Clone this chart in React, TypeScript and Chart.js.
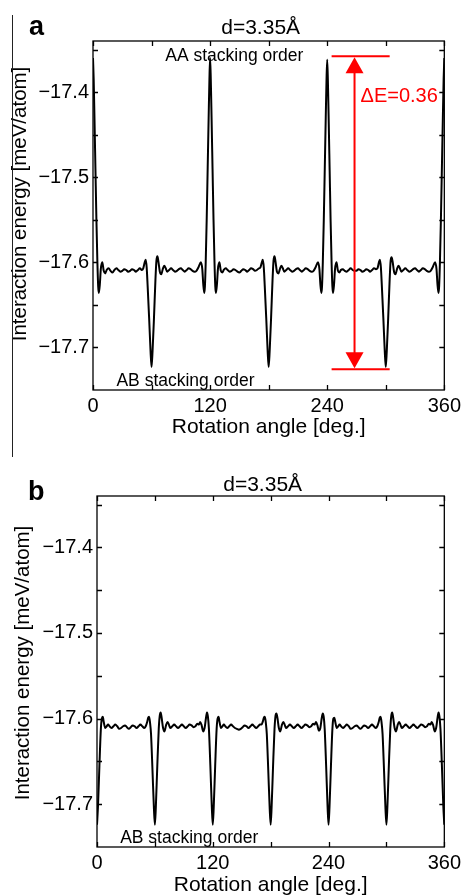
import React, { useEffect, useRef } from 'react';
import { Chart, registerables } from 'chart.js';

Chart.register(...registerables);

const FONT = "'Liberation Sans', Arial, Helvetica, sans-serif";

// ---- axis ticks / titles ----
const X_LABEL_TICKS = [0, 120, 240, 360];
const X_MINOR_TICKS = [0, 60, 120, 180, 240, 300, 360];
const Y_LABEL_TICKS = [-17.7, -17.6, -17.5, -17.4];
const Y_MINOR_TICKS = [-17.7, -17.65, -17.6, -17.55, -17.5, -17.45, -17.4, -17.35];
const X_MIN = 0;
const X_MAX = 360;
const Y_MIN = -17.75;
const Y_MAX = -17.34;
const X_TITLE = 'Rotation angle [deg.]';
const Y_TITLE = 'Interaction energy [meV/atom]';
const PANEL_TITLE = 'd=3.35Å';

// ---- annotations ----
const AA_LABEL = 'AA stacking order';
const AA_AT = [74, -17.363];
const AB_LABEL = 'AB stacking order';
const AB_AT = [24, -17.745];
const DELTA_LABEL = 'ΔE=0.36';
const DELTA_ANGLE = 268;
const DELTA_SPAN = [244.5, 304];
const DELTA_TOP = -17.358;
const DELTA_BOTTOM = -17.7255;
const DELTA_LABEL_E = -17.412;

// ---- panel a: rotation angle [deg], interaction energy [meV/atom] ----
const CURVE_A: [number, number][] = [
  [0, -17.360], [0.7, -17.385], [1.5, -17.430], [2.5, -17.490], [3.5, -17.550], [4.5, -17.600],
  [5.3, -17.628], [6, -17.636], [7, -17.626], [8, -17.608], [9.5, -17.600], [11, -17.610],
  [12.5, -17.613], [14, -17.609], [16, -17.607], [18, -17.610], [20, -17.612], [22, -17.609],
  [24, -17.607], [26, -17.609], [28, -17.611], [30, -17.610], [32, -17.608], [34, -17.609],
  [36, -17.611], [38, -17.610], [40, -17.608], [42, -17.609], [44, -17.611], [46, -17.609],
  [48, -17.607], [50, -17.609], [51.5, -17.607], [53, -17.600], [54, -17.597], [55, -17.606],
  [56, -17.628], [57.5, -17.665], [59, -17.705], [60, -17.723], [61, -17.705], [62.5, -17.665],
  [64, -17.620], [65, -17.598], [66, -17.593], [67, -17.599], [68.5, -17.611], [70, -17.614],
  [71.5, -17.608], [73, -17.604], [74.5, -17.607], [76, -17.611], [78, -17.609], [80, -17.607],
  [82, -17.609], [84, -17.611], [86, -17.610], [88, -17.608], [90, -17.607], [92, -17.609],
  [94, -17.611], [96, -17.609], [98, -17.607], [100, -17.608], [102, -17.610], [104, -17.611],
  [106, -17.610], [108, -17.606], [110.5, -17.600], [112, -17.608], [113, -17.626], [114, -17.636],
  [114.7, -17.628], [115.5, -17.600], [116.5, -17.550], [117.5, -17.490], [118.5, -17.430], [119.3, -17.385],
  [120, -17.360], [120.7, -17.385], [121.5, -17.430], [122.5, -17.490], [123.5, -17.550], [124.5, -17.600],
  [125.3, -17.628], [126, -17.636], [127, -17.626], [128, -17.608], [129.5, -17.600], [131, -17.610],
  [132.5, -17.612], [134, -17.609], [136, -17.607], [138, -17.609], [140, -17.611], [142, -17.610],
  [144, -17.608], [146, -17.609], [148, -17.611], [150, -17.612], [152, -17.610], [154, -17.608],
  [156, -17.609], [158, -17.611], [160, -17.609], [162, -17.607], [164, -17.608], [166, -17.610],
  [168, -17.609], [170, -17.607], [171.5, -17.606], [173, -17.600], [174, -17.597], [175, -17.606],
  [176, -17.628], [177.5, -17.665], [179, -17.705], [180, -17.723], [181, -17.705], [182.5, -17.665],
  [184, -17.620], [185, -17.598], [186, -17.593], [187, -17.599], [188.5, -17.611], [190, -17.613],
  [191.5, -17.608], [193, -17.604], [194.5, -17.607], [196, -17.611], [198, -17.609], [200, -17.607],
  [202, -17.609], [204, -17.611], [206, -17.610], [208, -17.608], [210, -17.607], [212, -17.609],
  [214, -17.611], [216, -17.609], [218, -17.607], [220, -17.608], [222, -17.610], [224, -17.611],
  [226, -17.610], [228, -17.606], [230.5, -17.600], [232, -17.608], [233, -17.626], [234, -17.636],
  [234.7, -17.628], [235.5, -17.600], [236.5, -17.550], [237.5, -17.490], [238.5, -17.430], [239.3, -17.385],
  [240, -17.362], [240.7, -17.387], [241.5, -17.432], [242.5, -17.492], [243.5, -17.552], [244.5, -17.601],
  [245.3, -17.628], [246, -17.636], [247, -17.626], [248, -17.608], [249.5, -17.600], [251, -17.610],
  [252.5, -17.612], [254, -17.609], [256, -17.608], [258, -17.610], [260, -17.611], [262, -17.609],
  [264, -17.607], [266, -17.609], [268, -17.610], [270, -17.610], [272, -17.608], [274, -17.609],
  [276, -17.611], [278, -17.610], [280, -17.608], [282, -17.609], [284, -17.611], [286, -17.609],
  [288, -17.607], [290, -17.608], [291.5, -17.607], [293, -17.600], [294, -17.597], [295, -17.606],
  [296, -17.628], [297.5, -17.665], [299, -17.705], [300, -17.723], [301, -17.705], [302.5, -17.665],
  [304, -17.620], [305, -17.598], [306, -17.594], [307, -17.599], [308.5, -17.611], [310, -17.614],
  [311.5, -17.608], [313, -17.604], [314.5, -17.607], [316, -17.611], [318, -17.609], [320, -17.607],
  [322, -17.609], [324, -17.611], [326, -17.610], [328, -17.608], [330, -17.607], [332, -17.609],
  [334, -17.611], [336, -17.609], [338, -17.607], [340, -17.608], [342, -17.610], [344, -17.611],
  [346, -17.610], [348, -17.606], [350.5, -17.600], [352, -17.608], [353, -17.626], [354, -17.636],
  [354.7, -17.628], [355.5, -17.600], [356.5, -17.550], [357.5, -17.490], [358.5, -17.430], [359.3, -17.385],
  [360, -17.360],
];

// ---- panel b ----
const CURVE_B: [number, number][] = [
  [0, -17.724], [1, -17.703], [2.5, -17.655], [4, -17.612], [5, -17.600], [6, -17.598],
  [7, -17.604], [8.5, -17.611], [10, -17.609], [11.5, -17.607], [13, -17.609], [15, -17.611],
  [17, -17.609], [19, -17.607], [21, -17.609], [23, -17.612], [25, -17.611], [27, -17.609],
  [29, -17.608], [31, -17.610], [33, -17.612], [35, -17.610], [37, -17.608], [39, -17.609],
  [41, -17.611], [43, -17.609], [45, -17.607], [47, -17.609], [49, -17.611], [50.5, -17.609],
  [52, -17.604], [53, -17.599], [54, -17.598], [55, -17.605], [56, -17.618], [57.5, -17.660],
  [59, -17.705], [60, -17.724], [61, -17.703], [62.5, -17.655], [64, -17.612], [65, -17.597],
  [66, -17.593], [67, -17.599], [68.5, -17.611], [70, -17.615], [71.5, -17.608], [73, -17.604],
  [74.5, -17.607], [76, -17.611], [78, -17.609], [80, -17.607], [82, -17.609], [84, -17.611],
  [86, -17.609], [88, -17.607], [90, -17.609], [92, -17.611], [94, -17.609], [96, -17.607],
  [98, -17.608], [100, -17.610], [102, -17.609], [104, -17.606], [105.5, -17.607], [107, -17.604],
  [108.5, -17.608], [110, -17.615], [111.5, -17.611], [113, -17.599], [114, -17.593], [115, -17.598],
  [116, -17.612], [117.5, -17.655], [119, -17.703], [120, -17.724], [121, -17.703], [122.5, -17.655],
  [124, -17.612], [125, -17.600], [126, -17.598], [127, -17.604], [128.5, -17.611], [130, -17.609],
  [131.5, -17.607], [133, -17.609], [135, -17.611], [137, -17.609], [139, -17.607], [141, -17.609],
  [143, -17.611], [145, -17.612], [147, -17.613], [149, -17.612], [151, -17.610], [153, -17.608],
  [155, -17.609], [157, -17.611], [159, -17.609], [161, -17.607], [163, -17.609], [165, -17.611],
  [167, -17.609], [169, -17.607], [170.5, -17.607], [172, -17.603], [173, -17.599], [174, -17.598],
  [175, -17.605], [176, -17.618], [177.5, -17.660], [179, -17.705], [180, -17.724], [181, -17.703],
  [182.5, -17.655], [184, -17.612], [185, -17.597], [186, -17.594], [187, -17.599], [188.5, -17.611],
  [190, -17.615], [191.5, -17.608], [193, -17.604], [194.5, -17.607], [196, -17.611], [198, -17.609],
  [200, -17.607], [202, -17.609], [204, -17.611], [206, -17.609], [208, -17.607], [210, -17.609],
  [212, -17.611], [214, -17.609], [216, -17.607], [218, -17.608], [220, -17.610], [222, -17.609],
  [224, -17.606], [225.5, -17.607], [227, -17.604], [228.5, -17.608], [230, -17.614], [231.5, -17.611],
  [233, -17.599], [234, -17.594], [235, -17.598], [236, -17.612], [237.5, -17.655], [239, -17.703],
  [240, -17.724], [241, -17.703], [242.5, -17.655], [244, -17.612], [245, -17.600], [246, -17.599],
  [247, -17.604], [248.5, -17.611], [250, -17.609], [251.5, -17.607], [253, -17.609], [255, -17.611],
  [257, -17.609], [259, -17.607], [261, -17.609], [263, -17.612], [265, -17.611], [267, -17.609],
  [269, -17.608], [271, -17.610], [273, -17.612], [275, -17.610], [277, -17.608], [279, -17.609],
  [281, -17.611], [283, -17.609], [285, -17.607], [287, -17.609], [289, -17.611], [290.5, -17.609],
  [292, -17.604], [293, -17.599], [294, -17.598], [295, -17.605], [296, -17.618], [297.5, -17.660],
  [299, -17.705], [300, -17.724], [301, -17.703], [302.5, -17.655], [304, -17.612], [305, -17.597],
  [306, -17.593], [307, -17.599], [308.5, -17.611], [310, -17.615], [311.5, -17.608], [313, -17.604],
  [314.5, -17.607], [316, -17.611], [318, -17.609], [320, -17.607], [322, -17.609], [324, -17.611],
  [326, -17.609], [328, -17.607], [330, -17.609], [332, -17.611], [334, -17.609], [336, -17.607],
  [338, -17.608], [340, -17.610], [342, -17.609], [344, -17.606], [345.5, -17.607], [347, -17.604],
  [348.5, -17.608], [350, -17.615], [351.5, -17.611], [353, -17.599], [354, -17.593], [355, -17.598],
  [356, -17.612], [357.5, -17.655], [359, -17.703], [360, -17.724],
];

type PanelCfg = {
  letter: string;
  curve: [number, number][];
  showAA: boolean;
  showDelta: boolean;
  height: number;
  padTop: number;
  padRight: number;
  yWidth: number;
  xHeight: number;
  xTitlePad: number;
  yTitleX: number;
  yTitleY: number;
  letterX: number;
  letterY: number;
  titleDX: number;
  titleDY: number;
};

function makeOverlay(cfg: PanelCfg) {
  return {
    id: 'overlay_' + cfg.letter,
    afterDatasetsDraw(chart: any) {
      const { ctx, chartArea, scales } = chart;
      const { left, right, top, bottom } = chartArea;
      const xs = scales.x;
      const ys = scales.y;
      ctx.save();
      // frame
      ctx.strokeStyle = '#000';
      ctx.lineWidth = 1.3;
      ctx.strokeRect(left, top, right - left, bottom - top);
      // inward ticks
      const L = 5;
      ctx.beginPath();
      for (const v of X_MINOR_TICKS) {
        const px = Math.round(xs.getPixelForValue(v)) + 0.5;
        ctx.moveTo(px, bottom);
        ctx.lineTo(px, bottom - L);
        ctx.moveTo(px, top);
        ctx.lineTo(px, top + L);
      }
      for (const v of Y_MINOR_TICKS) {
        const py = Math.round(ys.getPixelForValue(v)) + 0.5;
        ctx.moveTo(left, py);
        ctx.lineTo(left + L, py);
        ctx.moveTo(right, py);
        ctx.lineTo(right - L, py);
      }
      ctx.stroke();

      ctx.fillStyle = '#000';
      ctx.textBaseline = 'alphabetic';

      // y axis title
      ctx.save();
      ctx.translate(cfg.yTitleX, cfg.yTitleY);
      ctx.rotate(-Math.PI / 2);
      ctx.font = `20.5px ${FONT}`;
      ctx.textAlign = 'center';
      ctx.textBaseline = 'middle';
      ctx.fillText(Y_TITLE, 0, 0);
      ctx.restore();

      // panel title
      ctx.font = `21px ${FONT}`;
      ctx.textAlign = 'center';
      ctx.fillText(PANEL_TITLE, (left + right) / 2 + cfg.titleDX, top - cfg.titleDY);

      // panel letter
      ctx.font = `bold 27px ${FONT}`;
      ctx.textAlign = 'left';
      ctx.fillText(cfg.letter, cfg.letterX, cfg.letterY);

      // stacking labels
      ctx.font = `17.5px ${FONT}`;
      if (cfg.showAA) {
        ctx.fillText(AA_LABEL, xs.getPixelForValue(AA_AT[0]), ys.getPixelForValue(AA_AT[1]));
      }
      ctx.fillText(AB_LABEL, xs.getPixelForValue(AB_AT[0]), ys.getPixelForValue(AB_AT[1]));

      if (cfg.showDelta) {
        const red = '#ff0000';
        const ax = xs.getPixelForValue(DELTA_ANGLE);
        const yT = ys.getPixelForValue(DELTA_TOP);
        const yB = ys.getPixelForValue(DELTA_BOTTOM);
        const x0 = xs.getPixelForValue(DELTA_SPAN[0]);
        const x1 = xs.getPixelForValue(DELTA_SPAN[1]);
        ctx.strokeStyle = red;
        ctx.fillStyle = red;
        ctx.lineWidth = 2;
        ctx.beginPath();
        ctx.moveTo(x0, yT);
        ctx.lineTo(x1, yT);
        ctx.moveTo(x0, yB);
        ctx.lineTo(x1, yB);
        ctx.moveTo(ax, yT + 10);
        ctx.lineTo(ax, yB - 10);
        ctx.stroke();
        const hw = 9;
        const hh = 16;
        ctx.beginPath();
        ctx.moveTo(ax, yT + 1);
        ctx.lineTo(ax - hw, yT + 1 + hh);
        ctx.lineTo(ax + hw, yT + 1 + hh);
        ctx.closePath();
        ctx.fill();
        ctx.beginPath();
        ctx.moveTo(ax, yB - 1);
        ctx.lineTo(ax - hw, yB - 1 - hh);
        ctx.lineTo(ax + hw, yB - 1 - hh);
        ctx.closePath();
        ctx.fill();
        ctx.font = `20px ${FONT}`;
        ctx.textAlign = 'left';
        ctx.fillText(DELTA_LABEL, ax + 6, ys.getPixelForValue(DELTA_LABEL_E));
      }
      ctx.restore();
    },
  };
}

function buildConfig(cfg: PanelCfg): any {
  const tickFont = { family: FONT, size: 20 };
  const titleFont = { family: FONT, size: 21, lineHeight: 1 };
  return {
    type: 'line',
    data: {
      datasets: [
        {
          data: cfg.curve.map(([x, y]) => ({ x, y })),
          borderColor: '#000',
          borderWidth: 2,
          pointRadius: 0,
          cubicInterpolationMode: 'monotone',
          fill: false,
        },
      ],
    },
    options: {
      animation: false,
      responsive: false,
      maintainAspectRatio: false,
      events: [],
      layout: { padding: { top: cfg.padTop, right: cfg.padRight, left: 0, bottom: 0 } },
      plugins: {
        legend: { display: false },
        tooltip: { enabled: false },
        title: { display: false },
      },
      scales: {
        x: {
          type: 'linear',
          min: X_MIN,
          max: X_MAX,
          grid: { display: false, drawTicks: false },
          border: { display: false },
          ticks: {
            padding: 4,
            color: '#000',
            font: tickFont,
            autoSkip: false,
            maxRotation: 0,
            callback: (v: any) => String(v),
          },
          afterBuildTicks: (s: any) => {
            s.ticks = X_LABEL_TICKS.map((v) => ({ value: v }));
          },
          afterFit: (s: any) => {
            s.height = cfg.xHeight;
          },
          title: {
            display: true,
            text: X_TITLE,
            color: '#000',
            font: titleFont,
            padding: { top: 0, bottom: cfg.xTitlePad },
          },
        },
        y: {
          type: 'linear',
          min: Y_MIN,
          max: Y_MAX,
          grid: { display: false, drawTicks: false },
          border: { display: false },
          ticks: {
            padding: 4,
            color: '#000',
            font: tickFont,
            autoSkip: false,
            callback: (v: any) => '\u2212' + Math.abs(Number(v)).toFixed(1),
          },
          afterBuildTicks: (s: any) => {
            s.ticks = Y_LABEL_TICKS.map((v) => ({ value: v }));
          },
          afterFit: (s: any) => {
            s.width = cfg.yWidth;
          },
          title: { display: false },
        },
      },
    },
    plugins: [makeOverlay(cfg)],
  };
}

const PANEL_A: PanelCfg = {
  letter: 'a',
  curve: CURVE_A,
  showAA: true,
  showDelta: true,
  height: 450,
  padTop: 41,
  padRight: 18,
  yWidth: 93,
  xHeight: 60,
  xTitlePad: 12,
  yTitleX: 20,
  yTitleY: 204,
  letterX: 29,
  letterY: 35,
  titleDX: -8,
  titleDY: 7,
};

const PANEL_B: PanelCfg = {
  letter: 'b',
  curve: CURVE_B,
  showAA: false,
  showDelta: false,
  height: 446,
  padTop: 46,
  padRight: 16,
  yWidth: 97,
  xHeight: 49,
  xTitlePad: 0,
  yTitleX: 23,
  yTitleY: 213,
  letterX: 28,
  letterY: 50,
  titleDX: -8,
  titleDY: 5,
};

function Panel({ cfg, top }: { cfg: PanelCfg; top: number }) {
  const ref = useRef<HTMLCanvasElement | null>(null);
  useEffect(() => {
    if (!ref.current) return;
    const chart = new Chart(ref.current, buildConfig(cfg));
    return () => chart.destroy();
  }, [cfg]);
  return (
    <canvas
      ref={ref}
      width={465}
      height={cfg.height}
      style={{ position: 'absolute', left: 0, top, width: 465, height: cfg.height, display: 'block' }}
    />
  );
}

export default function App() {
  return (
    <div style={{ position: 'absolute', left: 0, top: 0, width: 465, height: 896, background: '#fff', overflow: 'hidden' }}>
      <Panel cfg={PANEL_A} top={0} />
      <Panel cfg={PANEL_B} top={450} />
      <div style={{ position: 'absolute', left: 12, top: 15, width: 1, height: 442, background: '#222' }} />
    </div>
  );
}
